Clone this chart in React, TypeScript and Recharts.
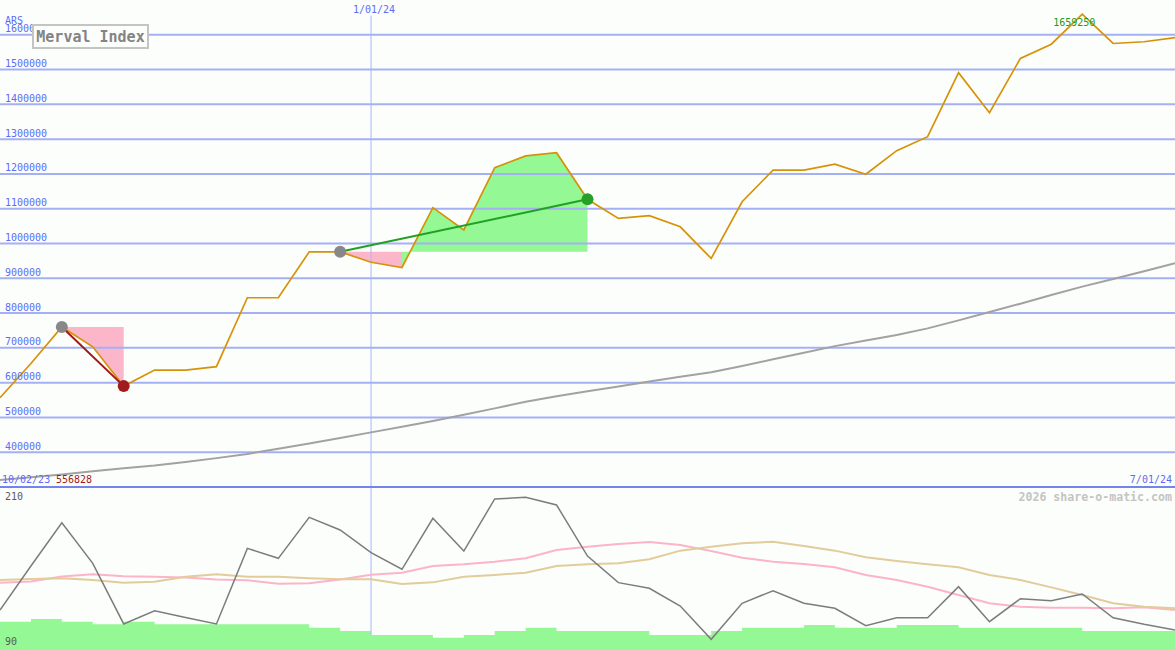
import React from 'react';
import {
  ComposedChart,
  Line,
  Area,
  XAxis,
  YAxis,
  ReferenceLine,
  ReferenceDot,
} from 'recharts';

// ---------- data ----------
const DATES = [
  '2023-10-09', '2023-10-16', '2023-10-23', '2023-10-30',
  '2023-11-06', '2023-11-13', '2023-11-20', '2023-11-27',
  '2023-12-04', '2023-12-11', '2023-12-18', '2023-12-25',
  '2024-01-01', '2024-01-08', '2024-01-15', '2024-01-22', '2024-01-29',
  '2024-02-05', '2024-02-12', '2024-02-19', '2024-02-26',
  '2024-03-04', '2024-03-11', '2024-03-18', '2024-03-25',
  '2024-04-01', '2024-04-08', '2024-04-15', '2024-04-22', '2024-04-29',
  '2024-05-06', '2024-05-13', '2024-05-20', '2024-05-27',
  '2024-06-03', '2024-06-10', '2024-06-17', '2024-06-24',
  '2024-07-01',
];

const PRICE = [
  556828, 655000, 760000, 703000, 590000, 636000, 636000, 646000,
  844000, 844000, 976000, 976000, 946000, 931000, 1103000, 1039000,
  1218000, 1252000, 1261000, 1127000, 1072000, 1080000, 1048000, 957000,
  1120000, 1211000, 1211000, 1228000, 1199000, 1267000, 1307000, 1491000,
  1376000, 1532000, 1573000, 1659250, 1575000, 1580000, 1592000,
];

const PRICE_MA = [
  320000, 328000, 336000, 345000, 354000, 362000, 372000, 383000,
  395000, 410000, 425000, 441000, 457000, 473000, 490000, 508000,
  526000, 545000, 561000, 575000, 589000, 603000, 617000, 630000,
  648000, 667000, 686000, 705000, 721000, 737000, 756000, 779000,
  803000, 827000, 852000, 876000, 898000, 920000, 943000,
];

const OSC = [
  119.6, 152.2, 184.3, 154.2, 109.3, 119.1, 114.1, 109.3,
  165.3, 157.9, 188.3, 178.9, 162.1, 149.8, 187.6, 163.3,
  201.9, 203.1, 197.4, 159.6, 139.9, 135.7, 122.6, 97.9,
  124.6, 133.9, 124.6, 120.9, 108.0, 113.9, 113.9, 136.9,
  111.0, 128.0, 126.5, 131.5, 113.9, 109.0, 104.8,
];

const OSC_FAST = [
  139.9, 140.7, 144.4, 146.1, 144.6, 144.3, 143.7, 142.2,
  141.6, 139.0, 139.4, 142.2, 145.7, 147.3, 152.2, 153.5,
  155.4, 157.9, 164.1, 166.5, 168.5, 170.0, 167.8, 163.3,
  158.4, 155.4, 153.7, 151.3, 145.6, 141.9, 136.9, 130.7,
  124.6, 122.1, 121.3, 121.3, 120.9, 121.6, 119.6,
];

const OSC_SLOW = [
  141.9, 142.6, 143.1, 141.9, 139.9, 140.6, 144.3, 146.1,
  144.3, 144.3, 143.1, 142.4, 142.4, 138.9, 140.1, 144.3,
  145.6, 147.3, 152.2, 153.5, 154.2, 157.2, 163.6, 166.5,
  169.0, 170.2, 167.0, 163.6, 158.7, 155.9, 153.5, 151.3,
  145.6, 141.9, 136.4, 130.7, 124.6, 122.1, 120.9,
];

const BARS = [
  111.0, 113.0, 111.0, 109.0, 111.0, 109.0, 109.0, 109.0,
  109.0, 109.0, 106.5, 104.1, 101.1, 101.1, 99.1, 101.1,
  104.1, 106.5, 104.1, 104.1, 104.1, 101.1, 101.1, 104.1,
  106.5, 106.5, 108.5, 106.5, 106.5, 108.5, 108.5, 106.5,
  106.5, 106.5, 106.5, 104.1, 104.1, 104.1, 104.1,
];

const PRICE_TICKS = [
  400000, 500000, 600000, 700000, 800000, 900000, 1000000,
  1100000, 1200000, 1300000, 1400000, 1500000, 1600000,
];
const PRICE_DOMAIN = [300000, 1700000];
const LOWER_TICKS = [90, 210];
const LOWER_DOMAIN = [90, 210];

const SIGNALS = [
  { from: 2, to: 4 },
  { from: 11, to: 19 },
];

const MARKER_DATE = '2024-01-01';
const MARKER_LABEL = '1/01/24';
const MARKER_TOP = 1655000;
const START_LABEL = '10/02/23';
const END_LABEL = '7/01/24';
const CURRENCY = 'ARS';
const TITLE = 'Merval Index';
const CREDIT = '2026 share-o-matic.com';

// ---------- derived rows ----------
type Row = Record<string, any>;
const rows: Row[] = DATES.map((d, i) => ({
  t: Date.parse(d),
  price: PRICE[i],
  ma: PRICE_MA[i],
  osc: OSC[i],
  fast: OSC_FAST[i],
  slow: OSC_SLOW[i],
  bar: BARS[i],
  pink: null,
  green: null,
  down: null,
  up: null,
}));

const dots: { i: number; v: number; color: string }[] = [];
SIGNALS.forEach((s) => {
  const level = PRICE[s.from];
  const isUp = PRICE[s.to] >= level;
  const key = isUp ? 'up' : 'down';
  rows[s.from][key] = level;
  rows[s.to][key] = PRICE[s.to];
  for (let i = s.from; i < s.to; i++) {
    const fillKey = PRICE[i + 1] >= level ? 'green' : 'pink';
    rows[i][fillKey] = [level, PRICE[i]];
    rows[i + 1][fillKey] = [level, PRICE[i + 1]];
  }
  dots.push({ i: s.from, v: level, color: '#888888' });
  dots.push({ i: s.to, v: PRICE[s.to], color: isUp ? '#28a028' : '#a01c1c' });
});

const T0 = rows[0].t;
const T1 = rows[rows.length - 1].t;
const MARKER_T = Date.parse(MARKER_DATE);
const MARKER_IDX = DATES.indexOf(MARKER_DATE);
const PRICE_MAX = Math.max(...PRICE);
const PRICE_MIN = Math.min(...PRICE);
const MAX_IDX = PRICE.indexOf(PRICE_MAX);

// ---------- style ----------
const W = 1175;
const TOP_H = 488;
const BOT_H = 162;
const BG = '#fcfefc';
const FONT = '"DejaVu Sans Mono", monospace';
const AXIS_BLUE = '#5c6cf4';
const GRID = '#a4b0f4';

const PriceTick = (props: any) => (
  <text x={5} y={props.y - 2.5} fill={AXIS_BLUE} fontSize={10} fontFamily={FONT}>
    {props.payload.value}
  </text>
);

const MarkerTick = (props: any) => (
  <text x={props.x + 3} y={13} fill={AXIS_BLUE} fontSize={10} fontFamily={FONT} textAnchor="middle">
    {MARKER_LABEL}
  </text>
);

const LowerTick = (props: any) => {
  const v = props.payload.value;
  const dy = v === LOWER_DOMAIN[1] ? 12 : -5;
  return (
    <text x={5} y={props.y + dy} fill="#5a5a5a" fontSize={10} fontFamily={FONT}>
      {v}
    </text>
  );
};

const MaxLabel = (props: any) => {
  const vb = props.viewBox || {};
  return (
    <text x={vb.x - 29} y={vb.y + 11.5} fill="#229922" fontSize={10} fontFamily={FONT}>
      {PRICE_MAX}
    </text>
  );
};

export default function App() {
  return (
    <div
      style={{
        position: 'absolute',
        left: 0,
        top: 0,
        width: W,
        height: TOP_H + BOT_H,
        background: BG,
        overflow: 'hidden',
      }}
    >
      <div style={{ position: 'absolute', left: 0, top: 0 }}>
        <ComposedChart width={W} height={TOP_H} data={rows} margin={{ top: 0, right: 0, bottom: 1, left: 0 }}>
          <XAxis
            dataKey="t"
            type="number"
            domain={[T0, T1]}
            orientation="top"
            mirror
            height={30}
            ticks={[MARKER_T]}
            tick={<MarkerTick />}
            axisLine={false}
            tickLine={false}
            interval={0}
            allowDataOverflow
          />
          <YAxis
            type="number"
            domain={PRICE_DOMAIN}
            ticks={PRICE_TICKS}
            interval={0}
            mirror
            width={60}
            axisLine={false}
            tickLine={false}
            tick={<PriceTick />}
            allowDataOverflow
          />
          {PRICE_TICKS.map((v) => (
            <ReferenceLine key={v} y={v} stroke={GRID} strokeWidth={2} />
          ))}
          <ReferenceLine
            segment={[
              { x: MARKER_T, y: MARKER_TOP },
              { x: MARKER_T, y: PRICE_DOMAIN[0] },
            ]}
            stroke="#a8b4f8"
            strokeWidth={1}
          />
          <ReferenceLine y={PRICE_DOMAIN[0]} stroke="#7484ec" strokeWidth={2} />
          <Line dataKey="ma" stroke="#a2a2a2" strokeWidth={2} dot={false} activeDot={false} isAnimationActive={false} />
          <Area
            dataKey="pink"
            fill="#fcb6ca"
            fillOpacity={1}
            stroke="none"
            dot={false}
            activeDot={false}
            isAnimationActive={false}
          />
          <Area
            dataKey="green"
            fill="#94f894"
            fillOpacity={1}
            stroke="none"
            dot={false}
            activeDot={false}
            isAnimationActive={false}
          />
          <Line dataKey="price" stroke="#d69208" strokeWidth={1.7} dot={false} activeDot={false} isAnimationActive={false} />
          <Line
            dataKey="down"
            stroke="#a01818"
            strokeWidth={2}
            connectNulls
            dot={false}
            activeDot={false}
            isAnimationActive={false}
          />
          <Line
            dataKey="up"
            stroke="#22a022"
            strokeWidth={2}
            connectNulls
            dot={false}
            activeDot={false}
            isAnimationActive={false}
          />
          {dots.map((d, k) => (
            <ReferenceDot key={k} x={rows[d.i].t} y={d.v} r={6} fill={d.color} stroke="none" />
          ))}
          <ReferenceDot x={rows[MAX_IDX].t} y={PRICE_MAX} r={0} fill="none" stroke="none" label={<MaxLabel />} />
        </ComposedChart>
      </div>

      <div style={{ position: 'absolute', left: 0, top: TOP_H }}>
        <ComposedChart width={W} height={BOT_H} data={rows} margin={{ top: 0, right: 0, bottom: 0, left: 0 }}>
          <XAxis dataKey="t" type="number" domain={[T0, T1]} hide allowDataOverflow />
          <YAxis
            type="number"
            domain={LOWER_DOMAIN}
            ticks={LOWER_TICKS}
            interval={0}
            mirror
            width={60}
            axisLine={false}
            tickLine={false}
            tick={<LowerTick />}
            allowDataOverflow
          />
          <ReferenceLine
            segment={[
              { x: MARKER_T, y: LOWER_DOMAIN[1] },
              { x: MARKER_T, y: BARS[MARKER_IDX] },
            ]}
            stroke="#a8b4f8"
            strokeWidth={1}
          />
          <Area
            type="stepAfter"
            dataKey="bar"
            baseValue={LOWER_DOMAIN[0]}
            fill="#94f894"
            fillOpacity={1}
            stroke="none"
            dot={false}
            activeDot={false}
            isAnimationActive={false}
          />
          <Line dataKey="fast" stroke="#fcb4c8" strokeWidth={2} dot={false} activeDot={false} isAnimationActive={false} />
          <Line dataKey="slow" stroke="#e2cc9c" strokeWidth={2} dot={false} activeDot={false} isAnimationActive={false} />
          <Line dataKey="osc" stroke="#7c7c7c" strokeWidth={1.5} dot={false} activeDot={false} isAnimationActive={false} />
        </ComposedChart>
      </div>

      <svg
        width={W}
        height={TOP_H + BOT_H}
        style={{ position: 'absolute', left: 0, top: 0, pointerEvents: 'none' }}
      >
        <text x={5} y={23.5} fill={AXIS_BLUE} fontSize={10} fontFamily={FONT}>
          {CURRENCY}
        </text>
        <rect x={33} y={25} width={115} height={23} fill={BG} stroke="#c4c4c4" strokeWidth={2} />
        <text
          x={90.5}
          y={42}
          fill="#848484"
          fontSize={15}
          fontWeight="bold"
          fontFamily={FONT}
          textAnchor="middle"
        >
          {TITLE}
        </text>
        <text x={2} y={483} fill={AXIS_BLUE} fontSize={10} fontFamily={FONT}>
          {START_LABEL}
        </text>
        <text x={56} y={483} fill="#a01c1c" fontSize={10} fontFamily={FONT}>
          {PRICE_MIN}
        </text>
        <text x={1172} y={483} fill={AXIS_BLUE} fontSize={10} fontFamily={FONT} textAnchor="end">
          {END_LABEL}
        </text>
        <text
          x={1172}
          y={500.5}
          fill="#c4c4c4"
          fontSize={11.6}
          fontWeight="bold"
          fontFamily={FONT}
          textAnchor="end"
        >
          {CREDIT}
        </text>
      </svg>
    </div>
  );
}
